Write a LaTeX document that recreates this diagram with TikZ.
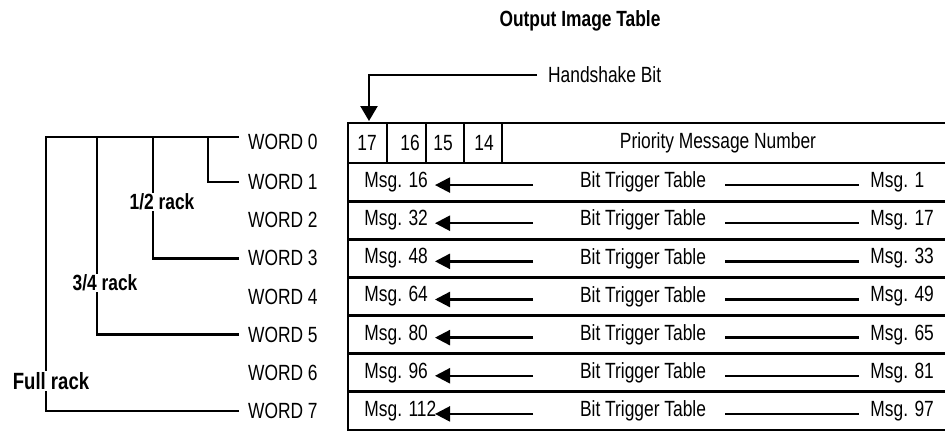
\documentclass[tikz,border=0pt]{standalone}
\usepackage{fontspec}
\setmainfont[FakeStretch=0.79]{Liberation Sans}
\usetikzlibrary{arrows.meta}

\begin{document}
\begin{tikzpicture}[x=1pt,y=-1pt,line width=2.3pt,
    every node/.style={font=\fontsize{22}{26}\selectfont},
    hd/.style={font=\fontsize{22}{26}\selectfont\bfseries},
    wordlbl/.style={anchor=west,inner xsep=8pt},
    racklbl/.style={hd,fill=white,inner sep=1pt},
    tbl/.style={line width=2.8pt},
    tip/.style={-{Triangle[length=15pt,width=15pt]}}]
  \useasboundingbox (0,0) rectangle (945,432);
  \node[hd] (title) at (580,21){Output Image Table};
  % word labels and rack brackets
  \node[wordlbl] (w0) at (239,142){WORD 0};
  \foreach \i in {1,...,7}
    \node[wordlbl] (w\i) at (239,{163+38.14*(\i-0.5)}){WORD \i};
  \coordinate (full) at (46,137);
  \coordinate (thq) at (97,137);
  \coordinate (half) at (153,137);
  \coordinate (one) at (208,137);
  \draw (w7.west) -| (full) -- (full -| w0.west);
  \draw (thq) |- (w5.west);
  \draw (half) |- (w3.west);
  \draw (one) |- (w1.west);
  \node[racklbl] (hr) at (162,202){1/2 rack};
  \node[racklbl] (tr) at (105,283){3/4 rack};
  \node[racklbl,font=\fontsize{23.5}{28}\selectfont\bfseries] (fr) at (51,381){Full rack};
  % table
  \draw[tbl] (348,123) rectangle (960,430);
  \foreach \i in {1,...,6}
    \draw[tbl] (348,{163+38.14*\i}) -- (960,{163+38.14*\i});
  \draw[tbl] (348,163) -- (960,163);
  \foreach \b/\xa/\xb/\xt in {17/348/387/367,16/387/426/410,15/426/464/443,14/464/502/484}{
    \draw[tbl] (\xa,123) rectangle (\xb,163);
    \node (b\b) at (\xt,143){\b};
  }
  \node (prio) at (718,143){Priority Message Number};
  \node[anchor=west,inner xsep=10pt] (hs) at (537,75){Handshake Bit};
  \coordinate (hb) at (369,121);
  \draw[-{Triangle[length=15pt,width=17pt]}] (hs.west) -| (hb);
  % bit trigger rows
  \foreach \i/\l/\r in {1/16/1,2/32/17,3/48/33,4/64/49,5/80/65,6/96/81,7/112/97}{
    \pgfmathsetmacro\y{163+38.14*(\i-0.5)}
    \node[anchor=west] (ml\i) at (360,\y){Msg. \l};
    \node (bt\i) at (643,\y){Bit Trigger Table};
    \node[anchor=west] (mr\i) at (866,\y){Msg. \r};
    \coordinate (as\i) at (533,{\y+3});
    \coordinate (at\i) at (435,{\y+3});
    \coordinate (ls\i) at (725,{\y+3});
    \coordinate (le\i) at (859,{\y+3});
    \draw[tip] (as\i) -- (at\i);
    \draw (ls\i) -- (le\i);
  }
\end{tikzpicture}
\end{document}
